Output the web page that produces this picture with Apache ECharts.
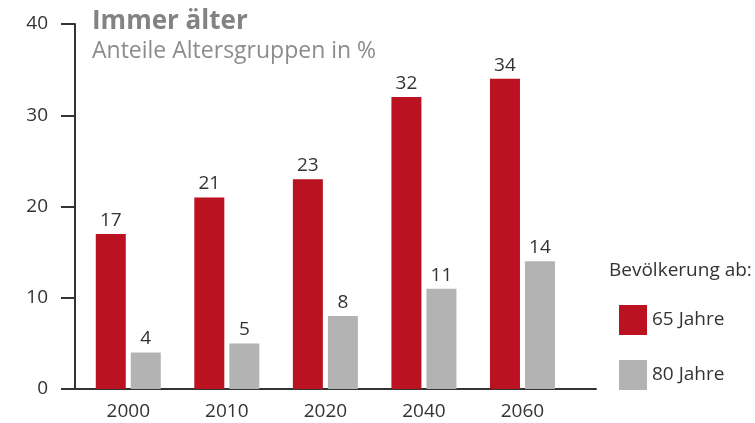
<!DOCTYPE html>
<html>
<head>
<meta charset="utf-8">
<script src="https://cdn.jsdelivr.net/npm/echarts@6/dist/echarts.min.js"></script>
<style>html,body{margin:0;padding:0;background:#fff;}#c{width:755px;height:423px;}</style>
</head>
<body>
<div id="c"></div>
<script>
const categories = ['2000', '2010', '2020', '2040', '2060'];
const ab65 = [17, 21, 23, 32, 34];
const ab80 = [4, 5, 8, 11, 14];
const yTicks = [0, 10, 20, 30, 40];
const seriesNames = ['65 Jahre', '80 Jahre'];

const FONT = '"Open Sans", sans-serif';
const chart = echarts.init(document.getElementById('c'), null, {renderer: 'canvas'});
chart.setOption({
  animation: false,
  backgroundColor: '#ffffff',
  title: [
    {text: 'Immer älter', left: 87, top: 4,
     textStyle: {fontFamily: FONT, fontSize: 26, fontWeight: 'bold', color: '#838383'}},
    {text: 'Anteile Altersgruppen in %', left: 87, top: 35,
     textStyle: {fontFamily: FONT, fontSize: 23, fontWeight: 'normal', color: '#8c8c8c'}},
    {text: 'Bevölkerung ab:', left: 604, top: 256,
     textStyle: {fontFamily: FONT, fontSize: 19, fontWeight: 'normal', color: '#333333'}}
  ],
  legend: {
    orient: 'vertical', left: 614, top: 300, itemWidth: 28, itemHeight: 30, itemGap: 25,
    icon: 'rect', data: seriesNames,
    textStyle: {fontFamily: FONT, fontSize: 19, color: '#333333', padding: [0, 0, 6, 0]}
  },
  grid: [
    {left: 79, right: 183.25, top: 24, bottom: 34},
    {left: 75, right: 159, top: 24, bottom: 34}
  ],
  xAxis: [
    {type: 'category', gridIndex: 0, data: categories,
     axisLine: {show: false}, axisTick: {show: false},
     axisLabel: {fontFamily: FONT, fontSize: 19, color: '#333333', margin: 13}},
    {type: 'category', gridIndex: 1, data: categories,
     axisLine: {show: true, lineStyle: {color: '#333333', width: 2}},
     axisTick: {show: false}, axisLabel: {show: false}}
  ],
  yAxis: [
    {type: 'value', gridIndex: 0, min: 0, max: 40, interval: 10, show: false},
    {type: 'value', gridIndex: 1, min: 0, max: 40, interval: 10,
     axisLine: {show: true, lineStyle: {color: '#333333', width: 2}},
     axisTick: {show: true, length: 14, lineStyle: {color: '#333333', width: 2}},
     splitLine: {show: false},
     axisLabel: {fontFamily: FONT, fontSize: 19, color: '#333333', margin: 27,
       formatter: v => yTicks.includes(v) ? String(v) : ''}}
  ],
  series: [
    {name: seriesNames[0], type: 'bar', xAxisIndex: 0, yAxisIndex: 0, data: ab65,
     barWidth: 30, barGap: '16.7%', itemStyle: {color: '#ba1220'},
     label: {show: true, position: 'top', distance: 4, fontFamily: FONT, fontSize: 19, color: '#333333'}},
    {name: seriesNames[1], type: 'bar', xAxisIndex: 0, yAxisIndex: 0, data: ab80,
     barWidth: 30, barGap: '16.7%', itemStyle: {color: '#b3b3b3'},
     label: {show: true, position: 'top', distance: 4, fontFamily: FONT, fontSize: 19, color: '#333333'}}
  ]
});
</script>
</body>
</html>
